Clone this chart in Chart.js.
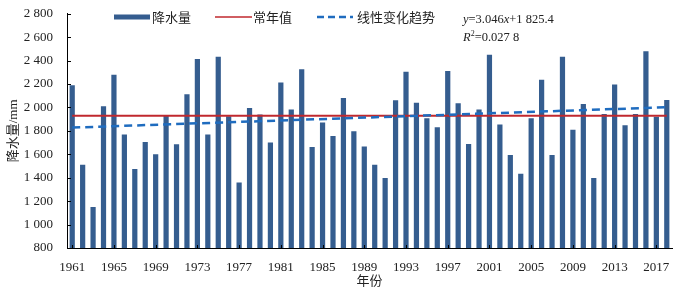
<!DOCTYPE html>
<html>
<head>
<meta charset="utf-8">
<script src="https://cdn.jsdelivr.net/npm/chart.js@4/dist/chart.umd.min.js"></script>
<style>
  html, body { margin: 0; padding: 0; background: #fff; }
  #wrap { width: 683px; height: 289px; }
</style>
</head>
<body>
<div id="wrap"><canvas id="chart" width="683" height="289"></canvas></div>
<script>
// 年份 1961-2018
const years = [
  1961, 1962, 1963, 1964, 1965, 1966, 1967, 1968, 1969, 1970,
  1971, 1972, 1973, 1974, 1975, 1976, 1977, 1978, 1979, 1980,
  1981, 1982, 1983, 1984, 1985, 1986, 1987, 1988, 1989, 1990,
  1991, 1992, 1993, 1994, 1995, 1996, 1997, 1998, 1999, 2000,
  2001, 2002, 2003, 2004, 2005, 2006, 2007, 2008, 2009, 2010,
  2011, 2012, 2013, 2014, 2015, 2016, 2017, 2018
];
// 降水量 (mm)
const precip = [
  2190, 1510, 1150, 2010, 2280, 1770, 1475, 1705, 1600, 1930,
  1685, 2112, 2413, 1770, 2433, 1925, 1360, 1995, 1940, 1700,
  2213, 1982, 2326, 1663, 1872, 1756, 2081, 1796, 1666, 1511,
  1398, 2061, 2306, 2041, 1909, 1832, 2312, 2036, 1689, 1982,
  2450, 1855, 1595, 1434, 1909, 2236, 1595, 2433, 1810, 2030,
  1398, 1945, 2196, 1849, 1945, 2481, 1920, 2064
];
const normalValue = 1930;          // 常年值
const trendEnds = [1828, 2002];    // 线性变化趋势 at 1961 and 2018
const yTicks = [800, 1000, 1200, 1400, 1600, 1800, 2000, 2200, 2400, 2600, 2800];
const legendLabels = ["降水量", "常年值", "线性变化趋势"];

const BAR = "#355d8f";
const RED = "#c0282e";
const TREND = "#1f6cbf";
const SERIF = "'Liberation Serif', 'Noto Sans CJK SC', serif";
const CJK = "'Noto Sans CJK SC', sans-serif";

// line datasets only need the two ends, spanGaps joins them
const lastIdx = years.length - 1;
const normalLine = years.map((y, i) => (i === 0 || i === lastIdx ? normalValue : null));
const trendLine = years.map((y, i) => (i === 0 ? trendEnds[0] : i === lastIdx ? trendEnds[1] : null));

function fmt(v) {
  // thin grouping like "2 800"
  return v >= 1000 ? String(v).replace(/(\d)(\d{3})$/, "$1 $2") : String(v);
}

// inward tick marks, legend and equation drawn by hand
const decor = {
  id: "decor",
  afterDraw(chart) {
    const ctx = chart.ctx;
    const area = chart.chartArea;
    const xs = chart.scales.x, ys = chart.scales.y;
    ctx.save();
    ctx.strokeStyle = "#000";
    ctx.lineWidth = 1;
    yTicks.forEach((v) => {
      const py = Math.round(ys.getPixelForValue(v)) + 0.5;
      ctx.beginPath();
      ctx.moveTo(area.left, py);
      ctx.lineTo(area.left + 4, py);
      ctx.stroke();
    });
    years.forEach((yr, i) => {
      if (i % 4 !== 0) return;
      const px = Math.round(xs.getPixelForValue(i)) + 0.5;
      ctx.beginPath();
      ctx.moveTo(px, area.bottom);
      ctx.lineTo(px, area.bottom - 3);
      ctx.stroke();
    });

    // legend
    const ly = 17;
    ctx.font = "13px " + CJK;
    ctx.textBaseline = "middle";
    // 降水量
    ctx.fillStyle = BAR;
    ctx.fillRect(114, ly - 2.5, 36, 5);
    ctx.fillStyle = "#222";
    ctx.fillText(legendLabels[0], 152, ly);
    // 常年值
    ctx.strokeStyle = RED;
    ctx.lineWidth = 1.5;
    ctx.beginPath();
    ctx.moveTo(215, ly);
    ctx.lineTo(252, ly);
    ctx.stroke();
    ctx.fillText(legendLabels[1], 253, ly);
    // 线性变化趋势
    ctx.strokeStyle = TREND;
    ctx.lineWidth = 2.5;
    ctx.setLineDash([7, 4]);
    ctx.beginPath();
    ctx.moveTo(317, ly);
    ctx.lineTo(353, ly);
    ctx.stroke();
    ctx.setLineDash([]);
    ctx.fillText(legendLabels[2], 357, ly);

    // equation
    ctx.textBaseline = "alphabetic";
    let x = 463;
    const parts = [
      ["y", true], ["=3.046", false], ["x", true], ["+1 825.4", false]
    ];
    parts.forEach(([t, it]) => {
      ctx.font = (it ? "italic " : "") + "12.5px " + SERIF;
      ctx.fillText(t, x, 23);
      x += ctx.measureText(t).width;
    });
    x = 463;
    ctx.font = "italic 12.5px " + SERIF;
    ctx.fillText("R", x, 41);
    x += ctx.measureText("R").width;
    ctx.font = "8px " + SERIF;
    ctx.fillText("2", x, 36);
    x += ctx.measureText("2").width;
    ctx.font = "12.5px " + SERIF;
    ctx.fillText("=0.027 8", x, 41);
    ctx.restore();
  }
};

new Chart(document.getElementById("chart"), {
  data: {
    labels: years,
    datasets: [
      {
        type: "line",
        label: legendLabels[2],
        data: trendLine,
        borderColor: TREND,
        borderWidth: 2.5,
        borderDash: [8, 5],
        pointRadius: 0,
        spanGaps: true,
        order: 1
      },
      {
        type: "line",
        label: legendLabels[1],
        data: normalLine,
        borderColor: RED,
        borderWidth: 2,
        pointRadius: 0,
        spanGaps: true,
        order: 2
      },
      {
        type: "bar",
        label: legendLabels[0],
        data: precip,
        backgroundColor: BAR,
        barPercentage: 0.5,
        categoryPercentage: 1,
        order: 3
      }
    ]
  },
  options: {
    responsive: false,
    animation: false,
    layout: { padding: { left: 0, right: 11, top: 9, bottom: 0 } },
    plugins: {
      legend: { display: false },
      tooltip: { enabled: false }
    },
    scales: {
      x: {
        type: "category",
        offset: true,
        grid: { display: false },
        border: { color: "#000", width: 1 },
        ticks: {
          autoSkip: false,
          maxRotation: 0,
          color: "#222",
          font: { family: SERIF, size: 13 },
          padding: 4,
          callback: (v, i) => (i % 4 === 0 ? String(years[i]) : "")
        },
        title: {
          display: true,
          text: "年份",
          color: "#222",
          font: { family: CJK, size: 13 },
          padding: { top: 0, bottom: 1 }
        },
        afterFit: (s) => { s.height = 41; }
      },
      y: {
        min: 800,
        max: 2800,
        grid: { display: false },
        border: { color: "#000", width: 1 },
        afterBuildTicks: (s) => { s.ticks = yTicks.map((v) => ({ value: v })); },
        ticks: {
          color: "#222",
          font: { family: SERIF, size: 13 },
          padding: 6,
          callback: (v) => fmt(v)
        },
        title: {
          display: true,
          text: "降水量/mm",
          color: "#222",
          font: { family: SERIF, size: 13 },
          padding: { top: 6, bottom: 0 }
        },
        afterFit: (s) => { s.width = 67; }
      }
    }
  },
  plugins: [decor]
});
</script>
</body>
</html>
